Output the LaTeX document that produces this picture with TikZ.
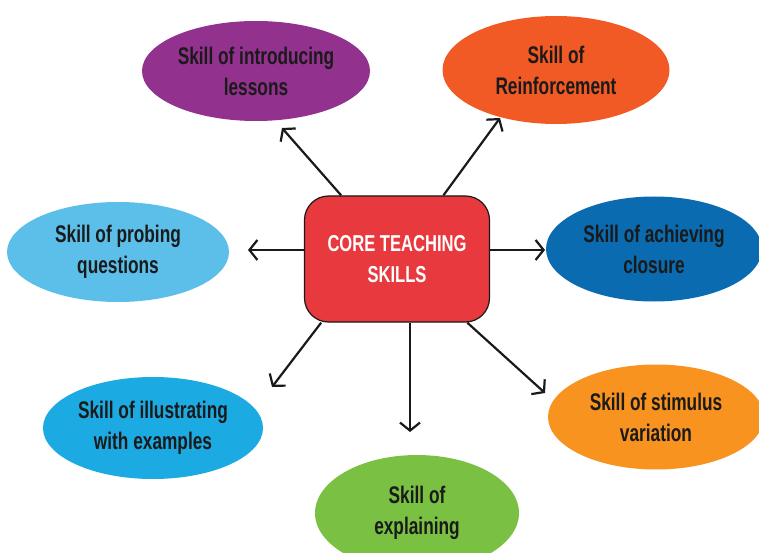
\documentclass[tikz,border=0pt]{standalone}
\usepackage{fontspec}
\newfontfamily\skillfont{Liberation Sans}[FakeStretch=0.72]
\usepackage{tikz}
\usepackage{xcolor}
\usetikzlibrary{shapes,arrows.meta}

\definecolor{introcol}{HTML}{93318E}
\definecolor{reinfcol}{HTML}{F15A24}
\definecolor{probecol}{HTML}{5BBFEA}
\definecolor{closecol}{HTML}{0A6BB0}
\definecolor{illuscol}{HTML}{1CAAE2}
\definecolor{stimcol}{HTML}{F7931E}
\definecolor{explcol}{HTML}{7AC143}
\definecolor{corecol}{HTML}{E8393F}
\definecolor{inkcol}{HTML}{1A1A1A}

\begin{document}
\begin{tikzpicture}
  [x=1pt,y=-1pt,
   skill/.style={ellipse,inner sep=0pt,align=center,text=inkcol,
     font=\skillfont\bfseries\fontsize{24}{31}\selectfont},
   arr/.style={-{Straight Barb[length=8pt,width=20pt]},line width=2.2pt,inkcol}]
  \useasboundingbox (0,0) rectangle (759,553);

  \node[skill,fill=introcol,minimum width=228,minimum height=100] (intro) at (256,71)
    {Skill of introducing\\lessons};
  \node[skill,fill=reinfcol,minimum width=227,minimum height=108] (reinf) at (556,70)
    {Skill of\\Reinforcement};
  \node[skill,fill=probecol,minimum width=222,minimum height=100] (probe) at (118,252)
    {Skill of probing\\questions};
  \node[skill,fill=closecol,minimum width=216,minimum height=105] (close) at (654,249)
    {Skill of achieving\\closure};
  \node[skill,fill=illuscol,minimum width=220,minimum height=102] (illus) at (153,428)
    {Skill of illustrating\\with examples};
  \node[skill,fill=stimcol,minimum width=216,minimum height=105] (stim) at (656,417)
    {Skill of stimulus\\variation};
  \node[skill,fill=explcol,minimum width=204,minimum height=116] (expl) at (417,513)
    {Skill of\\explaining};

  \node[draw=inkcol,line width=1.2pt,fill=corecol,rounded corners=24pt,
    minimum width=185,minimum height=126,inner sep=0pt,align=center,text=white,
    font=\skillfont\bfseries\fontsize{23}{31}\selectfont] (core) at (397,259)
    {CORE TEACHING\\SKILLS};

  \coordinate (tintro) at (282,128);
  \coordinate (treinf) at (500,118);
  \coordinate (tprobe) at (248,250);
  \coordinate (tclose) at (545,250);
  \coordinate (tillus) at (272,387);
  \coordinate (tstim) at (545,393);
  \coordinate (texpl) at (410,432);

  \foreach \to in {tintro,treinf,tstim}
    \draw[arr] (core) -- (\to);
  \draw[arr] (core.-140) -- (tillus);
  \draw[arr] (core.west |- tprobe) -- (tprobe);
  \draw[arr] (core.east |- tclose) -- (tclose);
  \draw[arr] (core.south -| texpl) -- (texpl);

\end{tikzpicture}
\end{document}
